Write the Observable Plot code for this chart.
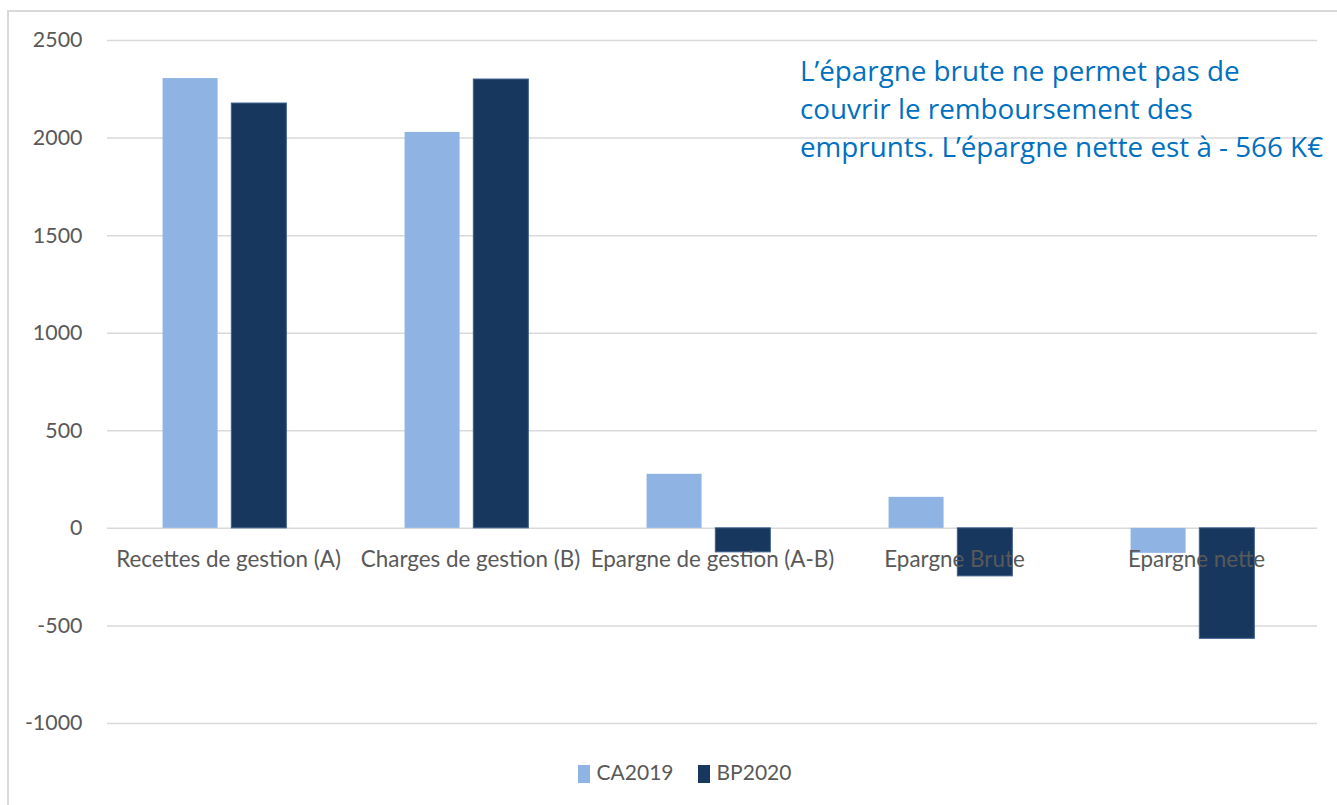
<!DOCTYPE html>
<html>
<head>
<meta charset="utf-8">
<script src="https://cdn.jsdelivr.net/npm/d3@7"></script>
<script src="https://cdn.jsdelivr.net/npm/@observablehq/plot@0.6"></script>
<style>
  html, body { margin: 0; padding: 0; background: #fff; }
  #wrap { position: relative; width: 1337px; height: 805px; overflow: hidden; }
  #frame { position: absolute; left: 7px; top: 10px; width: 1400px; height: 900px;
           border-left: 2px solid #d9d9d9; border-top: 2px solid #d9d9d9; }
  #chart { position: absolute; left: 0; top: 0; }
  #note { position: absolute; left: 800px; top: 51px; color: #0070C0;
          font-family: "Open Sans", sans-serif; font-size: 27.8px; line-height: 38px; white-space: nowrap; }
  #legend { position: absolute; left: 16px; top: 759px; width: 1337px; text-align: center;
            font-family: Lato, sans-serif; font-size: 21px; color: #595959; }
  #legend span.sw { display: inline-block; width: 12px; height: 18px; vertical-align: -3px; margin-right: 7px; }
  #legend span.item { margin: 0 12px; }
</style>
</head>
<body>
<div id="wrap">
  <div id="frame"></div>
  <div id="chart"></div>
  <div id="note">L’épargne brute ne permet pas de<br>couvrir le remboursement des<br>emprunts. L’épargne nette est à - 566 K€</div>
  <div id="legend"></div>
</div>
<script>
const categories = ["Recettes de gestion (A)", "Charges de gestion (B)", "Epargne de gestion (A-B)", "Epargne Brute", "Epargne nette"];
const series = ["CA2019", "BP2020"];
const ca2019 = [2305, 2029, 277, 159, -128];
const bp2020 = [2177, 2300, -123, -246, -566];
const yTicks = [-1000, -500, 0, 500, 1000, 1500, 2000, 2500];
const colors = ["#8FB4E3", "#17375E"];

const rows = [];
categories.forEach((c, i) => {
  rows.push({category: c, series: series[0], value: ca2019[i]});
  rows.push({category: c, series: series[1], value: bp2020[i]});
});

const chart = Plot.plot({
  width: 1337,
  height: 750,
  marginLeft: 105,
  marginRight: 19,
  marginTop: 40,
  marginBottom: 27,
  style: {fontFamily: "Lato, sans-serif", background: "transparent"},
  fx: {domain: categories, padding: 0, axis: null},
  x: {domain: series, paddingInner: 0.2, paddingOuter: 0.86, align: 0.47, round: false, axis: null},
  y: {domain: [-1000, 2500]},
  color: {domain: series, range: colors},
  marks: [
    Plot.gridY(yTicks, {stroke: "#d9d9d9", strokeOpacity: 1, strokeWidth: 1.5}),
    Plot.axisY(yTicks, {tickSize: 0, tickPadding: 25, fontSize: 21.4, fill: "#595959", label: null, tickFormat: d => String(d)}),
    Plot.barY(rows, {fx: "category", x: "series", y: "value", fill: "series"}),
    Plot.barY(rows.filter(d => d.series === series[1]), {fx: "category", x: "series", y: "value", fill: "none", stroke: "#3a5f8f", strokeWidth: 1}),
    Plot.text(categories, {fx: d => d, y: 0, text: d => d, dy: 31, fontSize: 22.4, fill: "#595959"})
  ]
});
document.getElementById("chart").appendChild(chart);

const legend = document.getElementById("legend");
series.forEach((s, i) => {
  const item = document.createElement("span");
  item.className = "item";
  const sw = document.createElement("span");
  sw.className = "sw";
  sw.style.background = colors[i];
  item.appendChild(sw);
  item.appendChild(document.createTextNode(s));
  legend.appendChild(item);
});
</script>
</body>
</html>
